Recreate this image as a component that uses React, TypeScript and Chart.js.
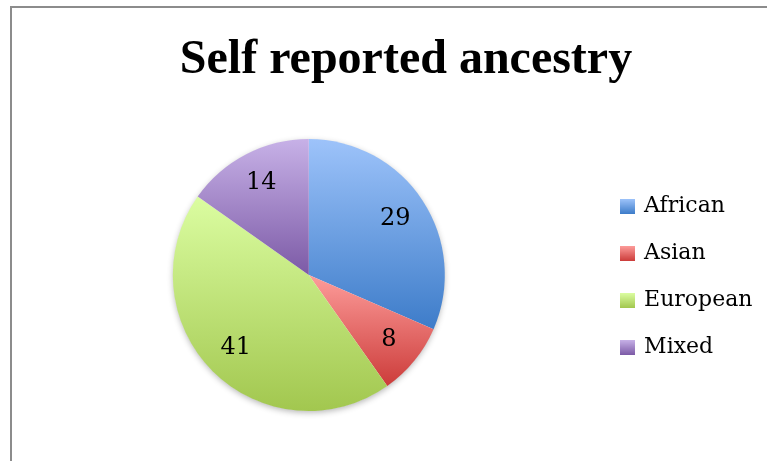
import React, { useEffect, useRef } from "react";
import { Chart, registerables, layouts } from "chart.js";

Chart.register(...registerables);

const categories = ["African", "Asian", "European", "Mixed"];
const values = [29, 8, 41, 14];
const lightColors = ["#9dc3fa", "#fd9c9a", "#dbfda1", "#c7b1e7"];
const darkColors = ["#3d7cc9", "#cc3c3a", "#a2c74f", "#7c5aa6"];
const titleText = "Self reported ancestry";

const LABEL_FONT = '24px "DejaVu Serif"';

function sliceGradient(chart: any, index: number) {
  const area = chart.chartArea;
  if (!area) return lightColors[index];
  const cx = (area.left + area.right) / 2;
  const cy = (area.top + area.bottom) / 2;
  const r = Math.min(area.right - area.left, area.bottom - area.top) / 2;
  const total = values.reduce((a, b) => a + b, 0);
  let cum = 0;
  for (let i = 0; i < index; i++) cum += values[i];
  const start = -Math.PI / 2 + (2 * Math.PI * cum) / total;
  const end = start + (2 * Math.PI * values[index]) / total;
  const ys = [cy, cy + r * Math.sin(start), cy + r * Math.sin(end)];
  for (const a of [-Math.PI / 2, Math.PI / 2, (3 * Math.PI) / 2]) {
    if (a >= start && a <= end) ys.push(cy + r * Math.sin(a));
  }
  const y0 = Math.min(...ys);
  const y1 = Math.max(...ys);
  const g = chart.ctx.createLinearGradient(0, y0, 0, y1);
  g.addColorStop(0, lightColors[index]);
  g.addColorStop(1, darkColors[index]);
  return g;
}

function legendSwatch(index: number) {
  const c = document.createElement("canvas");
  c.width = 15;
  c.height = 15;
  const x = c.getContext("2d")!;
  const g = x.createLinearGradient(0, 0, 0, 15);
  g.addColorStop(0, lightColors[index]);
  g.addColorStop(1, darkColors[index]);
  x.fillStyle = g;
  x.fillRect(0, 0, 15, 15);
  return c;
}

const spacerPlugin = {
  id: "rightSpacer",
  beforeInit(chart: any) {
    const box: any = {
      position: "right",
      weight: 1500,
      fullSize: false,
      options: {},
      left: 0,
      top: 0,
      right: 0,
      bottom: 0,
      width: 0,
      height: 0,
      isHorizontal() {
        return false;
      },
      update(_maxWidth: number, maxHeight: number) {
        this.width = 28;
        this.height = maxHeight;
      },
      draw() {},
    };
    layouts.addBox(chart, box);
  },
};

const shadowPlugin = {
  id: "pieShadow",
  beforeDatasetsDraw(chart: any) {
    const meta = chart.getDatasetMeta(0);
    const arc = meta.data[0];
    if (!arc) return;
    const { x, y, outerRadius } = arc.getProps(["x", "y", "outerRadius"], true);
    const ctx = chart.ctx;
    ctx.save();
    ctx.shadowColor = "rgba(0,0,0,0.3)";
    ctx.shadowBlur = 6;
    ctx.shadowOffsetY = 2;
    ctx.fillStyle = "#ffffff";
    ctx.beginPath();
    ctx.arc(x, y, outerRadius - 0.5, 0, Math.PI * 2);
    ctx.fill();
    ctx.restore();
  },
};

const valueLabelPlugin = {
  id: "valueLabels",
  afterDatasetsDraw(chart: any) {
    const meta = chart.getDatasetMeta(0);
    const ctx = chart.ctx;
    ctx.save();
    ctx.font = LABEL_FONT;
    ctx.fillStyle = "#000";
    ctx.textAlign = "center";
    ctx.textBaseline = "middle";
    meta.data.forEach((arc: any, i: number) => {
      const { x, y, startAngle, endAngle, outerRadius } = arc.getProps(
        ["x", "y", "startAngle", "endAngle", "outerRadius"],
        true
      );
      const mid = (startAngle + endAngle) / 2;
      const rr = outerRadius * 0.76;
      ctx.fillText(String(values[i]), x + Math.cos(mid) * rr, y + Math.sin(mid) * rr);
    });
    ctx.restore();
  },
};

export default function App() {
  const ref = useRef<HTMLCanvasElement | null>(null);

  useEffect(() => {
    if (!ref.current) return;
    const swatches = categories.map((_, i) => legendSwatch(i));
    const chart = new Chart(ref.current, {
      type: "pie",
      data: {
        labels: categories,
        datasets: [
          {
            data: values,
            backgroundColor: (ctx: any) => sliceGradient(ctx.chart, ctx.dataIndex),
            borderWidth: 0,
          },
        ],
      },
      options: {
        responsive: false,
        animation: false,
        events: [],
        layout: { padding: { left: 9.5, right: 9.5, top: 0, bottom: 50 } },
        plugins: {
          title: {
            display: true,
            text: titleText,
            color: "#000",
            font: { family: "Liberation Serif", size: 48, weight: "bold", lineHeight: 1.2 },
            padding: { top: 24, bottom: 49.4 },
          },
          legend: {
            position: "right",
            fullSize: false,
            title: { display: true, text: "", padding: 0, font: { size: 4, lineHeight: 1 } },
            labels: {
              usePointStyle: true,
              pointStyleWidth: 12,
              boxHeight: 15,
              padding: 25,
              color: "#000",
              font: { family: "DejaVu Serif", size: 22 },
              generateLabels: () =>
                categories.map((c, i) => ({
                  text: c,
                  fillStyle: lightColors[i],
                  strokeStyle: lightColors[i],
                  lineWidth: 0,
                  pointStyle: swatches[i],
                  hidden: false,
                  index: i,
                  fontColor: "#000",
                })),
            },
          },
          tooltip: { enabled: false },
        },
      } as any,
      plugins: [spacerPlugin, shadowPlugin, valueLabelPlugin],
    });
    return () => chart.destroy();
  }, []);

  return (
    <div
      style={{
        position: "absolute",
        left: 10,
        top: 6,
        width: 788,
        height: 453,
        border: "2px solid #8c8c8c",
        background: "#fff",
      }}
    >
      <canvas ref={ref} width={788} height={453} style={{ display: "block", width: 788, height: 453 }} />
    </div>
  );
}
